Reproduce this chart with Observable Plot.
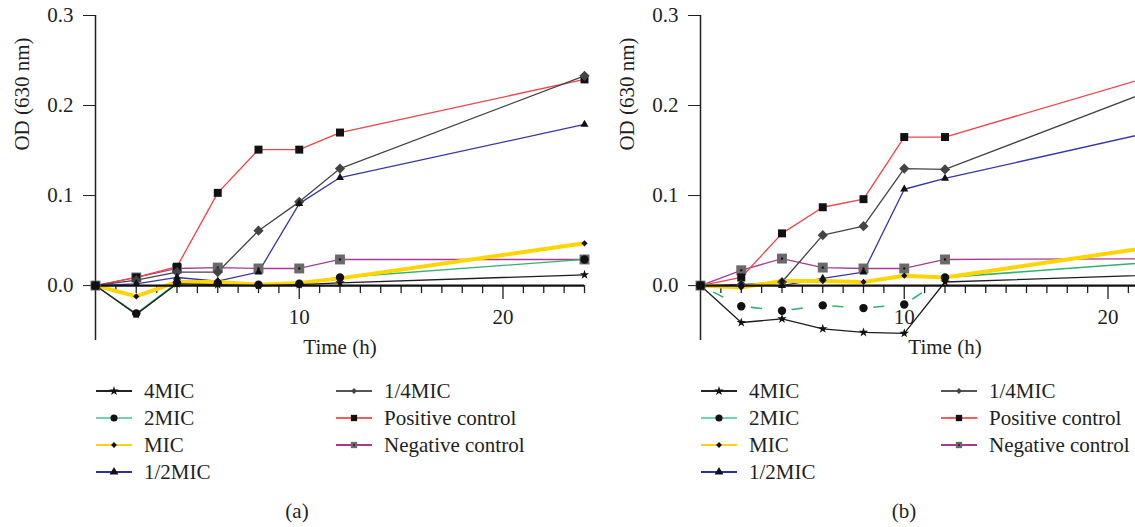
<!DOCTYPE html>
<html><head><meta charset="utf-8">
<script src="https://cdn.jsdelivr.net/npm/d3@7"></script>
<script src="https://cdn.jsdelivr.net/npm/@observablehq/plot@0.6"></script>
<style>
html,body{margin:0;padding:0;overflow:hidden;background:#fff;}
#root{position:relative;width:1135px;height:527px;overflow:hidden;font-family:"Liberation Serif",serif;color:#231f20;}
.panel{position:absolute;top:0;}
.legend-item{position:absolute;display:flex;align-items:center;height:24px;font-size:21px;white-space:nowrap;}
.legend-item svg{margin-right:12px;}
.caption{position:absolute;font-size:21px;transform:translateX(-50%);}
</style></head><body><div id="root"></div>
<script>
// ---------- data ----------
const times = [0, 2, 4, 6, 8, 10, 12, 24];
const seriesNames = ["4MIC", "2MIC", "MIC", "1/2MIC", "1/4MIC", "Positive control", "Negative control"];
const seriesColors = ["#1e1e1e", "#2fb36e", "#ffd500", "#3636a6", "#444444", "#f0434a", "#a83a95"];
const legendColors = ["#222222", "#6fd3b5", "#f5d21c", "#2e2e9e", "#555555", "#ff5a5a", "#a8398f"];
const yTicks = [0, 0.1, 0.2, 0.3];
const xTickLabels = [10, 20];

// panel (a)
const a4MIC     = [0, -0.032, 0.002, 0.001, 0.000, 0.001, 0.003, 0.012];
const a2MIC     = [0, -0.031, 0.003, 0.003, 0.001, 0.002, 0.009, 0.029];
const aMIC      = [0, -0.012, 0.004, 0.004, 0.001, 0.003, 0.008, 0.047];
const aHalfMIC  = [0, 0.002, 0.009, 0.005, 0.015, 0.091, 0.120, 0.179];
const aQuarter  = [0, 0.006, 0.015, 0.015, 0.061, 0.093, 0.130, 0.233];
const aPositive = [0, 0.009, 0.021, 0.103, 0.151, 0.151, 0.170, 0.229];
const aNegative = [0, 0.009, 0.019, 0.020, 0.019, 0.019, 0.029, 0.029];

// panel (b)
const b4MIC     = [0, -0.041, -0.037, -0.048, -0.052, -0.053, 0.004, 0.013];
const b2MIC     = [0, -0.023, -0.028, -0.022, -0.025, -0.021, 0.009, 0.029];
const bMIC      = [0, -0.002, 0.005, 0.005, 0.004, 0.011, 0.009, 0.049];
const bHalfMIC  = [0, 0.001, 0.000, 0.008, 0.015, 0.107, 0.119, 0.180];
const bQuarter  = [0, 0.001, 0.004, 0.056, 0.066, 0.130, 0.129, 0.233];
const bPositive = [0, 0.009, 0.058, 0.087, 0.096, 0.165, 0.165, 0.245];
const bNegative = [0, 0.017, 0.030, 0.020, 0.019, 0.019, 0.029, 0.030];

// ---------- styles ----------
const symbols = [
  {symbol: "star", fill: "#111", r: 3},
  {symbol: "circle", fill: "#111", r: 4.2},
  {symbol: "diamond2", fill: "#111", r: 2.8},
  {symbol: "triangle", fill: "#111", r: 3},
  {symbol: "diamond2", fill: "#444", r: 4.6},
  {symbol: "square", fill: "#111", r: 4.5},
  {symbol: "square", fill: "#6a6a6a", r: 5.6}
];
const drawOrder = [6, 5, 4, 3, 1, 2, 0];
const font = "Liberation Serif, serif";
const yDomain = [-0.061, 0.3];
const W = 600, H = 360, ML = 95, MR = 16, MT = 15, MB = 20;
const unitsPerPx = (yDomain[1] - yDomain[0]) / (H - MT - MB);

function makePanel(vals, dashed2MIC) {
  const rows = vals.map((arr, i) => times.map((t, j) => ({t, v: arr[j], s: seriesNames[i]})));
  const minor = d3.range(1, 25).filter(d => !xTickLabels.includes(d));
  const marks = [];
  // axes
  marks.push(Plot.ruleX([0], {y1: yDomain[0], y2: yDomain[1], stroke: "#231f20", strokeWidth: 1.5}));
  marks.push(Plot.axisY({ticks: yTicks, tickFormat: d3.format(".1f"), tickSize: 12, tickPadding: 10, label: null, fill: "#231f20", stroke: "#231f20"}));
  marks.push(Plot.ruleX(minor, {x: d => d, y1: 0, y2: -8 * unitsPerPx, stroke: "#231f20", strokeWidth: 1.3}));
  marks.push(Plot.ruleX(xTickLabels, {x: d => d, y1: 0, y2: -14 * unitsPerPx, stroke: "#231f20", strokeWidth: 1.3}));
  marks.push(Plot.text(xTickLabels, {x: d => d, y: 0, dy: 32, text: d => String(d), fill: "#231f20"}));
  marks.push(Plot.text(["Time (h)"], {frameAnchor: "bottom", dy: 7, lineAnchor: "middle", fill: "#231f20"}));
  marks.push(Plot.text(["OD (630 nm)"], {frameAnchor: "left", y: 0.15, dx: -73, rotate: -90, fill: "#231f20"}));
  // lines
  for (const i of drawOrder) {
    const sw = i === 2 ? 4 : 1.3;
    if (i === 1 && dashed2MIC) {
      marks.push(Plot.line(rows[i].filter(d => d.t <= 12), {x: "t", y: "v", stroke: seriesColors[i], strokeWidth: 1.6, strokeDasharray: "10,31", strokeDashoffset: -15, clip: true}));
      marks.push(Plot.line(rows[i].filter(d => d.t >= 12), {x: "t", y: "v", stroke: seriesColors[i], strokeWidth: 1.6, clip: true}));
    } else {
      marks.push(Plot.line(rows[i], {x: "t", y: "v", stroke: seriesColors[i], strokeWidth: sw}));
    }
  }
  marks.push(Plot.ruleY([0], {x1: 0, x2: 24, stroke: "#111", strokeWidth: 2.2}));
  // markers
  for (const i of drawOrder) {
    const s = symbols[i];
    marks.push(Plot.dot(rows[i], {x: "t", y: "v", symbol: s.symbol, fill: s.fill, r: s.r}));
    if (i === 6) marks.push(Plot.dot(rows[i], {x: "t", y: "v", symbol: "square", fill: "#111", r: 1.2}));
  }
  return Plot.plot({
    width: W, height: H, marginLeft: ML, marginRight: MR, marginTop: MT, marginBottom: MB,
    style: {fontFamily: font, fontSize: "21px", color: "#231f20", background: "transparent", overflow: "visible"},
    x: {domain: [0, 24], axis: null},
    y: {domain: yDomain, axis: null},
    marks
  });
}

const root = document.getElementById("root");
function place(el, left) { el.classList.add("panel"); el.style.left = left + "px"; root.appendChild(el); }
place(makePanel([a4MIC, a2MIC, aMIC, aHalfMIC, aQuarter, aPositive, aNegative], false), 0);
place(makePanel([b4MIC, b2MIC, bMIC, bHalfMIC, bQuarter, bPositive, bNegative], true), 605);

// ---------- legends ----------
const d3Sym = {star: d3.symbolStar, circle: d3.symbolCircle, diamond2: d3.symbolDiamond2, triangle: d3.symbolTriangle, square: d3.symbolSquare};
const legendSize = [28, 40, 22, 34, 22, 40, 40];
function legendItem(i, left, top) {
  const div = document.createElement("div");
  div.className = "legend-item";
  div.style.left = left + "px"; div.style.top = (top - 12) + "px";
  const svg = d3.create("svg").attr("width", 36).attr("height", 14);
  svg.append("line").attr("x1", 0).attr("x2", 36).attr("y1", 7).attr("y2", 7).attr("stroke", legendColors[i]).attr("stroke-width", 2);
  const s = symbols[i];
  svg.append("path").attr("transform", "translate(18,7)").attr("d", d3.symbol(d3Sym[s.symbol], legendSize[i])()).attr("fill", s.fill);
  if (i === 6) svg.append("path").attr("transform", "translate(18,7)").attr("d", d3.symbol(d3.symbolSquare, 3)()).attr("fill", "#111");
  div.appendChild(svg.node());
  const span = document.createElement("span"); span.textContent = seriesNames[i];
  div.appendChild(span);
  root.appendChild(div);
}
const rowsY = [391, 418, 445, 472];
function legend(x1, x2) {
  [0, 1, 2, 3].forEach((i, k) => legendItem(i, x1, rowsY[k]));
  [4, 5, 6].forEach((i, k) => legendItem(i, x2, rowsY[k]));
}
legend(96, 336);
legend(701, 941);

function caption(text, x) {
  const c = document.createElement("div");
  c.className = "caption"; c.textContent = text;
  c.style.left = x + "px"; c.style.top = "499px";
  root.appendChild(c);
}
caption("(a)", 297);
caption("(b)", 904);
</script></body></html>
